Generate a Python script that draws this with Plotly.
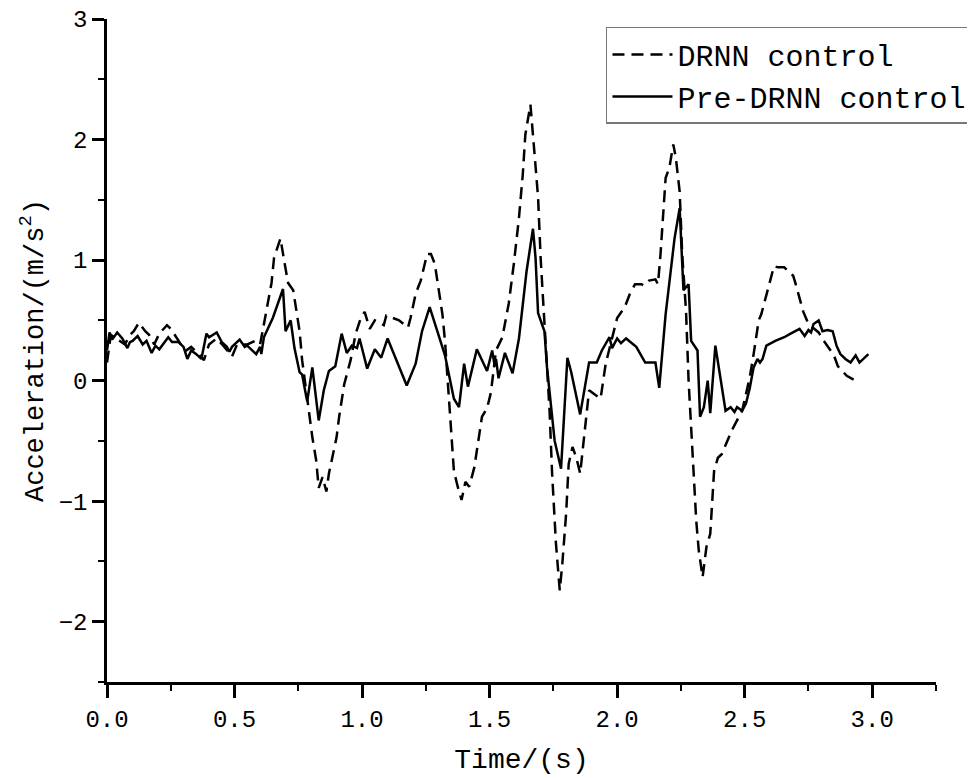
import plotly.graph_objects as go

# Pre-DRNN control (solid)
pre_t = [0.00,0.01,0.02,0.04,0.06,0.08,0.09,0.10,0.12,0.14,0.155,0.175,0.19,0.205,0.24,0.255,0.28,0.30,0.315,0.33,
         0.35,0.37,0.39,0.40,0.43,0.45,0.47,0.48,0.49,0.52,0.54,0.55,0.565,0.585,0.60,0.605,0.615,0.63,0.65,0.69,
         0.70,0.72,0.735,0.755,0.765,0.78,0.785,0.805,0.83,0.85,0.87,0.895,0.92,0.94,0.96,0.98,0.99,1.02,1.05,1.075,
         1.10,1.175,1.21,1.235,1.265,1.295,1.325,1.36,1.38,1.40,1.415,1.45,1.49,1.51,1.52,1.525,1.535,1.56,1.59,1.615,
         1.645,1.67,1.68,1.69,1.715,1.725,1.755,1.78,1.79,1.805,1.82,1.83,1.855,1.89,1.92,1.94,1.97,1.98,2.00,2.015,
         2.035,2.075,2.11,2.15,2.165,2.19,2.225,2.245,2.26,2.28,2.29,2.315,2.325,2.34,2.355,2.365,2.385,2.425,2.445,2.46,
         2.47,2.49,2.505,2.52,2.535,2.55,2.56,2.57,2.585,2.62,2.655,2.68,2.715,2.735,2.75,2.76,2.77,2.79,2.805,2.825,
         2.845,2.86,2.875,2.895,2.915,2.935,2.95,2.985]
pre_a = [0.25,0.40,0.34,0.40,0.35,0.27,0.32,0.33,0.37,0.30,0.33,0.23,0.29,0.26,0.36,0.32,0.32,0.28,0.18,0.25,
         0.22,0.18,0.39,0.36,0.40,0.32,0.28,0.24,0.28,0.34,0.28,0.29,0.26,0.22,0.28,0.22,0.36,0.43,0.52,0.76,
         0.41,0.50,0.27,0.07,0.05,-0.12,-0.17,0.11,-0.33,-0.08,0.08,0.12,0.39,0.23,0.29,0.27,0.35,0.10,0.26,0.19,
         0.35,-0.04,0.14,0.41,0.61,0.41,0.21,-0.15,-0.22,0.14,-0.05,0.26,0.08,0.25,0.12,0.18,0.02,0.23,0.06,0.35,
         0.91,1.26,1.02,0.56,0.41,0.11,-0.50,-0.73,-0.39,0.19,0.07,-0.03,-0.28,0.15,0.15,0.25,0.36,0.27,0.35,0.31,
         0.35,0.28,0.15,0.15,-0.06,0.55,1.18,1.43,0.75,0.80,0.33,0.25,-0.30,-0.22,0.00,-0.27,0.29,-0.25,-0.22,-0.26,
         -0.22,-0.25,-0.19,-0.06,0.11,0.18,0.15,0.18,0.29,0.33,0.36,0.39,0.43,0.37,0.42,0.40,0.47,0.50,0.41,0.42,
         0.41,0.29,0.22,0.18,0.15,0.21,0.15,0.22]

# DRNN control (dashed)
drnn_t = [0.00,0.015,0.03,0.05,0.07,0.09,0.105,0.125,0.15,0.165,0.185,0.205,0.235,0.25,0.27,0.29,0.31,0.33,0.36,0.38,
          0.40,0.43,0.46,0.49,0.51,0.55,0.58,0.60,0.61,0.625,0.645,0.655,0.68,0.695,0.71,0.73,0.74,0.755,0.765,0.785,
          0.795,0.805,0.82,0.83,0.845,0.86,0.87,0.90,0.91,0.93,0.955,0.975,0.995,1.01,1.03,1.05,1.085,1.095,1.145,1.18,
          1.19,1.21,1.23,1.245,1.255,1.27,1.285,1.295,1.315,1.325,1.335,1.35,1.36,1.375,1.39,1.405,1.42,1.44,1.46,1.47,
          1.49,1.505,1.525,1.55,1.575,1.595,1.615,1.63,1.64,1.66,1.675,1.69,1.70,1.715,1.725,1.735,1.745,1.76,1.775,1.785,
          1.80,1.81,1.825,1.84,1.855,1.875,1.89,1.915,1.935,1.955,1.975,2.00,2.03,2.05,2.07,2.095,2.105,2.125,2.15,2.16,
          2.17,2.18,2.19,2.205,2.22,2.23,2.245,2.255,2.27,2.28,2.295,2.31,2.32,2.335,2.35,2.365,2.38,2.395,2.41,2.45,
          2.49,2.52,2.535,2.555,2.565,2.59,2.60,2.615,2.63,2.655,2.675,2.69,2.70,2.72,2.73,2.75,2.79,2.81,2.85,2.865,
          2.90,2.935]
drnn_a = [0.15,0.38,0.36,0.33,0.30,0.38,0.41,0.48,0.41,0.38,0.30,0.39,0.46,0.43,0.36,0.30,0.25,0.28,0.22,0.17,
          0.30,0.35,0.28,0.20,0.30,0.30,0.33,0.30,0.41,0.58,0.81,1.02,1.18,0.99,0.81,0.75,0.60,0.41,0.17,-0.17,
          -0.33,-0.47,-0.66,-0.89,-0.80,-0.92,-0.77,-0.47,-0.30,-0.03,0.17,0.39,0.52,0.57,0.43,0.50,0.46,0.54,0.50,0.44,
          0.52,0.72,0.83,0.95,1.05,1.05,0.97,0.83,0.55,0.33,0.00,-0.50,-0.75,-0.88,-0.99,-0.84,-0.88,-0.72,-0.41,-0.30,
          -0.23,-0.10,0.25,0.36,0.64,0.97,1.35,1.71,2.04,2.29,1.91,1.52,1.02,0.47,0.14,-0.25,-0.77,-1.35,-1.74,-1.52,
          -1.10,-0.69,-0.55,-0.64,-0.77,-0.36,-0.08,-0.12,-0.15,0.14,0.30,0.52,0.61,0.72,0.80,0.80,0.79,0.83,0.84,0.80,
          1.05,1.38,1.68,1.77,1.96,1.85,1.57,1.05,0.58,0.00,-0.61,-1.16,-1.41,-1.63,-1.38,-1.27,-0.75,-0.64,-0.61,-0.41,
          -0.25,0.03,0.22,0.50,0.55,0.75,0.83,0.95,0.94,0.94,0.90,0.87,0.80,0.66,0.57,0.47,0.40,0.33,0.21,0.12,
          0.04,0.00]

x_tickvals = [0.0, 0.5, 1.0, 1.5, 2.0, 2.5, 3.0]
y_tickvals = [-2, -1, 0, 1, 2, 3]

FONT = "Liberation Mono"

fig = go.Figure()
fig.add_trace(go.Scatter(x=drnn_t, y=drnn_a, mode="lines", name="DRNN control",
                         line=dict(color="black", width=2.5, dash="12px,7px")))
fig.add_trace(go.Scatter(x=pre_t, y=pre_a, mode="lines", name="Pre-DRNN control",
                         line=dict(color="black", width=2.5)))

fig.update_layout(
    width=967, height=770,
    margin=dict(l=99, r=39, t=11, b=96, autoexpand=False),
    paper_bgcolor="white", plot_bgcolor="white",
    font=dict(family=FONT, color="black", size=24),
    showlegend=True,
    legend=dict(x=1.0446, y=0.988, xanchor="right", yanchor="top",
                bgcolor="white", bordercolor="#777777", borderwidth=1.5,
                font=dict(family=FONT, size=30, color="black"),
                tracegroupgap=0, itemwidth=60),
)
fig.update_xaxes(
    range=[0, 3.25], tickvals=x_tickvals, ticktext=[f"{v:.1f}" for v in x_tickvals],
    automargin=False, ticklabeloverflow="allow",
    showgrid=False, zeroline=False, showline=True, linecolor="black", linewidth=2.5,
    ticks="outside", ticklen=13, tickwidth=2.5, tickcolor="black",
    minor=dict(ticks="outside", ticklen=6, tickwidth=2, tickcolor="black", dtick=0.25, tick0=0, showgrid=False),
    tickfont=dict(family=FONT, size=24),
    title=dict(text="Time/(s)", font=dict(family=FONT, size=28), standoff=16),
)
fig.update_yaxes(
    range=[-2.5, 3], tickvals=y_tickvals,
    automargin=False, ticklabeloverflow="allow",
    showgrid=False, zeroline=False, showline=True, linecolor="black", linewidth=2.5,
    ticks="outside", ticklen=12, tickwidth=2.5, tickcolor="black",
    minor=dict(ticks="outside", ticklen=6, tickwidth=2, tickcolor="black", dtick=0.5, tick0=0, showgrid=False),
    tickfont=dict(family=FONT, size=24),
    title=dict(text="Acceleration/(m/s<sup>2</sup>)", font=dict(family=FONT, size=27), standoff=8),
)

fig.write_html("out.html")
